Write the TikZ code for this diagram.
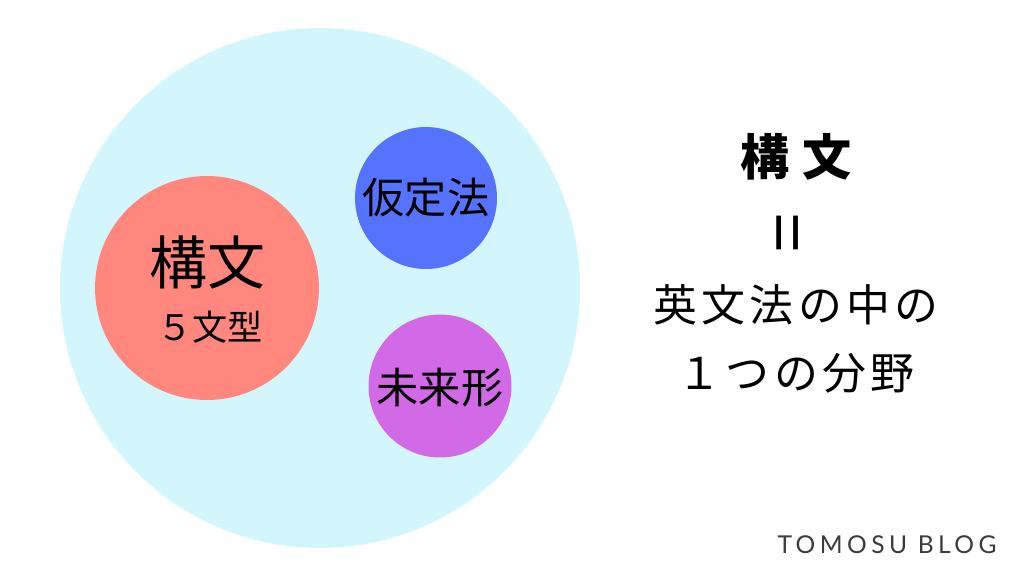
\documentclass[tikz,border=0pt]{standalone}
\usepackage{fontspec}
\usepackage{xcolor}
\setmainfont{Noto Sans CJK JP}
\newfontfamily\jpwide[LetterSpace=10]{Noto Sans CJK JP}
\newfontfamily\jptitle[LetterSpace=26]{Noto Sans CJK JP}
\newfontfamily\blogfont[LetterSpace=18]{Lato}
\usetikzlibrary{positioning}
\definecolor{skyc}{RGB}{211,246,252}
\definecolor{salmonc}{RGB}{255,135,125}
\definecolor{bluec}{RGB}{85,115,255}
\definecolor{purplec}{RGB}{210,105,230}
\definecolor{blogc}{RGB}{60,60,60}

\begin{document}
\begin{tikzpicture}[
  x=0.02cm, y=-0.02cm,
  ball/.style={circle, draw=none, inner sep=0pt},
  label/.style={inner sep=0pt, font=\fontsize{24pt}{24pt}\selectfont},
  side/.style={inner sep=0pt, font=\jpwide\fontsize{25pt}{25pt}\selectfont},
]
\useasboundingbox (0,0) rectangle (1024,576);
\node[ball, fill=skyc, minimum size=10.4cm] (grammar) at (320,288) {};
\node[ball, fill=salmonc, minimum size=4.48cm] (koubun) at (207,288) {};
\node[ball, fill=bluec, minimum size=2.84cm] (katei) at (426,198) {};
\node[ball, fill=purplec, minimum size=2.86cm] (mirai) at (440,386) {};
\node[label, font=\fontsize{33pt}{33pt}\selectfont] (koubunT) at (207,262) {構文};
\node[label, font=\fontsize{20pt}{20pt}\selectfont] (bunkei) at (210,327) {５文型};
\node[label] (kateiT) at (426,198) {仮定法};
\node[label] (miraiT) at (440,388) {未来形};
% right side
\node[inner sep=0pt, font=\jptitle\bfseries\fontsize{28pt}{28pt}\selectfont] (title) at (796,157) {構文};
\node[inner sep=0pt, rotate=90, font=\fontsize{40pt}{40pt}\selectfont] (eq) at (795,233) {=};
\node[side] (line1) at (796,305) {英文法の中の};
\node[side] (line2) at (796,373) {１つの分野};
\node[inner sep=0pt, text=blogc, font=\blogfont\fontsize{14pt}{14pt}\selectfont] (blog) at (887,545) {TOMOSU BLOG};
\end{tikzpicture}
\end{document}
